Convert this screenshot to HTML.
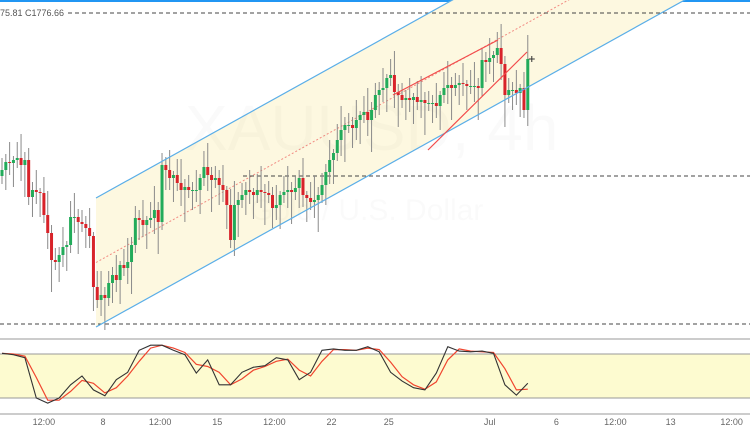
<!DOCTYPE html>
<html><head><meta charset="utf-8"><style>
html,body{margin:0;padding:0;background:#fff;width:750px;height:430px;overflow:hidden;font-family:"Liberation Sans",sans-serif}
svg{display:block}
</style></head><body>
<svg id="chart" width="750" height="430" xmlns="http://www.w3.org/2000/svg">
<rect x="0" y="0" width="750" height="2" fill="#2196f3"/>
<g id="bg"></g>
<text x="185" y="150" font-size="64" fill="#000" fill-opacity="0.018">XAUUSD, 4h</text>
<text x="250" y="220" font-size="30" fill="#000" fill-opacity="0.018">Gold / U.S. Dollar</text>
<g id="candles"></g>
<g id="overlay"></g>
<text x="0" y="16" font-size="9" fill="#555">75.81  C1776.66</text>
<g id="stoch"></g>
<g id="xaxis"></g>
</svg>
<script>
const closes=[1738.5,1740.5,1740.25,1741,1741.5,1739.75,1741,1731.75,1733.5,1733,
1732.75,1727.25,1722.75,1716,1715.5,1717.25,1719.25,1719.75,1726.75,1726.75,
1725.5,1725,1724,1722,1709.25,1706,1707.25,1706.5,1710.25,1712.25,
1711,1714.75,1714,1715.5,1719.75,1726.5,1726,1724.75,1726,1726.5,
1728.5,1725.5,1739.75,1738.5,1736.5,1737.25,1735.25,1733.5,1734.25,1733.5,
1733.5,1733.5,1736.5,1739.25,1737.25,1736,1736.5,1734.75,1733.5,1729.75,
1721,1729.75,1731,1732.25,1733.5,1733,1732.25,1733.5,1733,1732.75,
1732.25,1729,1729.75,1732.25,1733,1733.5,1733,1734,1736.5,1732.25,
1731.5,1730.5,1731,1732.25,1734.75,1738,1741,1742.75,1746,1748.5,
1749.75,1749.75,1749,1751,1752.25,1753,1751,1753.5,1757.25,1758.5,
1759,1761.5,1762.25,1758,1757.25,1756,1756.5,1756,1756.75,1755.5,
1756,1755.25,1755.25,1755.25,1754.5,1757.25,1759,1759.75,1759,1759.75,
1760.25,1760,1759.5,1759.5,1759.5,1759,1766,1765.5,1766.5,1767.25,
1769,1765,1757.25,1758.5,1758.5,1757.75,1759,1753.5,1766.25];
const firstOpen=1737;
const wickUp=[3,2,5,1,4,6,2];
const wickDn=[2,5,3,6,2,4,8];
const levels=[1777.75,1737,1700];
const levelStartX=[68,243,0];
const stochK=[81,79,75,20,13,20,38,50,31,23,45,55,85,92,92,85,79,54,72,38,38,55,62,64,75,72,45,55,85,87,85,85,90,83,55,43,34,31,54,90,84,83,84,81,38,24,40];
const stochD=[81,80,77,48,17,17,29,44,40,27,34,50,70,88,92,88,82,66,63,55,38,46,58,63,70,73,58,50,70,86,86,85,88,86,69,49,38,32,42,72,87,84,83,82,60,31,32];
const stochStride=3;
const xTicks=["12:00","8","12:00","15","12:00","22","25","Jul","6","12:00","13","12:00"];
const xTickIdx=[11,26.5,41.5,56.5,71.5,86.5,101.5,128,145.5,161,175.5,191.5];

const NS="http://www.w3.org/2000/svg";
function el(t,a,p){const e=document.createElementNS(NS,t);for(const k in a)e.setAttribute(k,a[k]);p.appendChild(e);return e;}
const X0=2,DX=3.81;
function xs(i){return X0+i*DX;}
function ys(p){return (1781-p)*4;}
function ysto(v){return 398-(v-20)*44/60;}

const bg=document.getElementById('bg');
const lx1=96,ly1=327,slope=-0.5555,off=-129;
function chan(x,o){return ly1+slope*(x-lx1)+o;}
const poly=el('polygon',{points:`${lx1},${chan(lx1,0)} 750,${chan(750,0)} 750,${chan(750,off)} ${lx1},${chan(lx1,off)}`,fill:'#fdf8e0'},bg);


const mid=el('line',{x1:lx1,y1:chan(lx1,off/2),x2:750,y2:chan(750,off/2),stroke:'#f28b82','stroke-width':1,'stroke-dasharray':'2,2'},bg);


levels.forEach((p,i)=>{
  const l=el('line',{x1:levelStartX[i],y1:ys(p),x2:750,y2:ys(p),stroke:'#444','stroke-width':1,'stroke-dasharray':'4,3'},bg);
  
  
});

const cg=document.getElementById('candles');
let prev=firstOpen;
closes.forEach((c,i)=>{
  const o=prev;prev=c;
  const hi=Math.max(o,c)+wickUp[i%wickUp.length];
  const lo=Math.min(o,c)-wickDn[i%wickDn.length];
  const x=xs(i);
  const g=el('g',{},cg);
  
  
  el('line',{x1:x,y1:ys(hi),x2:x,y2:ys(lo),stroke:'#8a8a8a','stroke-width':1},g);
  const top=ys(Math.max(o,c)),h=Math.max(1,ys(Math.min(o,c))-top);
  el('rect',{x:x-1.5,y:top,width:3,height:h,fill:c>=o?'#22ab5a':'#d8232a'},g);
});

const ov=document.getElementById('overlay');
[[0],[off]].forEach(([o],k)=>{
  const l=el('line',{x1:lx1,y1:chan(lx1,o),x2:750,y2:chan(750,o),stroke:'#5aaee8','stroke-width':1.2},ov);
  
  
});
const r1=el('line',{x1:393,y1:95,x2:498,y2:40,stroke:'#f24b4b','stroke-width':1.2},ov);


const r2=el('line',{x1:428,y1:150,x2:527,y2:52,stroke:'#f24b4b','stroke-width':1.2},ov);


const cur=el('path',{d:`M${xs(closes.length-1)+1},${ys(closes[closes.length-1])} h6 M${xs(closes.length-1)+4},${ys(closes[closes.length-1])-3} v6`,stroke:'#333','stroke-width':1},ov);



const sg=document.getElementById('stoch');
const band=el('rect',{x:0,y:354,width:750,height:44,fill:'#fdfbd0'},sg);


[339,354,398,414].forEach(y=>{
  const l=el('line',{x1:0,y1:y,x2:750,y2:y,stroke:'#999','stroke-width':1},sg);
  
  
});
function spath(arr){return arr.map((v,j)=>(j?'L':'M')+xs(j*stochStride).toFixed(1)+','+ysto(v).toFixed(1)).join(' ');}
const dl=el('path',{d:spath(stochD),fill:'none',stroke:'#f0452f','stroke-width':1.2},sg);


const kl=el('path',{d:spath(stochK),fill:'none',stroke:'#333','stroke-width':1.1},sg);



const xg=document.getElementById('xaxis');
xTicks.forEach((t,i)=>{
  const tx=el('text',{x:xs(xTickIdx[i]),y:425,'font-size':9,fill:'#666','text-anchor':'middle'},xg);
  tx.textContent=t;
  
  
});
</script>
</body></html>
